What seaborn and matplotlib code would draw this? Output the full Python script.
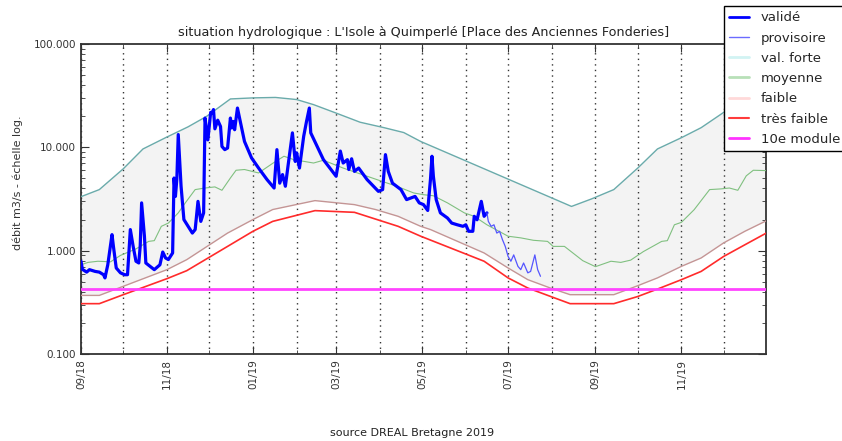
import matplotlib
matplotlib.use("Agg")

import numpy as np
import pandas as pd
import matplotlib.pyplot as plt
import matplotlib.dates as mdates
from matplotlib.ticker import FormatStrFormatter, LogLocator
from matplotlib.lines import Line2D
import seaborn as sns

START = pd.Timestamp("2018-09-01")

# daily flow, validated (days since 2018-09-01, m3/s)
valide_day = [0, 1, 4, 6, 10, 13, 16, 17, 19, 22, 23, 25, 28, 31, 33, 35, 37, 39, 41, 42,
              43, 45, 46, 49, 52, 56, 58, 60, 62, 65, 66, 67, 68, 69, 71, 73, 76, 79, 81, 83,
              85, 87, 88, 90, 92, 93, 94, 95, 97, 99, 100, 102, 104, 106, 107, 108, 109, 111, 113, 116,
              121, 126, 132, 137, 139, 141, 143, 145, 147, 150, 152, 153, 155, 158, 160, 162, 163, 172, 181, 184,
              186, 189, 190, 192, 194, 197, 203, 211, 214, 216, 218, 221, 227, 231, 237, 240, 243, 246, 248, 249,
              250, 252, 255, 260, 263, 267, 271, 273, 275, 278, 279, 281, 284, 286, 288]
valide_q = [0.79, 0.66, 0.62, 0.655, 0.63, 0.62, 0.585, 0.545, 0.73, 1.43, 1.1, 0.68, 0.61, 0.585, 0.585, 1.6, 1.1, 0.79, 0.76, 1.1,
            2.9, 1.38, 0.76, 0.705, 0.655, 0.73, 0.97, 0.85, 0.82, 0.95, 5.05, 3.35, 4.94, 13.3, 4.2, 2.0, 1.72, 1.48, 1.6, 3.0,
            1.92, 2.32, 19.2, 11.8, 21.8, 21.5, 23.2, 15.1, 18.3, 15.9, 10.2, 9.5, 9.85, 19.2, 15.4, 17.8, 14.8, 24.0, 17.8, 11.4,
            7.9, 6.3, 4.87, 4.04, 9.5, 4.5, 5.45, 4.2, 6.8, 13.8, 7.3, 8.85, 6.3, 12.8, 17.8, 24.0, 13.8, 7.6, 5.25, 9.2,
            7.05, 7.6, 6.1, 7.75, 5.85, 6.3, 4.87, 3.75, 3.9, 8.5, 5.85, 4.5, 3.9, 3.12, 3.35, 2.9, 2.79, 2.45, 5.0, 8.2,
            5.25, 3.12, 2.32, 2.07, 1.85, 1.78, 1.72, 1.78, 1.54, 1.54, 2.15, 1.99, 3.0, 2.15, 2.32]

# provisional flow
provisoire_day = [288, 289, 291, 293, 295, 297, 299, 301, 303, 305, 307, 310, 312, 314, 317, 319, 322, 324, 326]
provisoire_q = [2.32, 1.92, 1.72, 1.78, 1.48, 1.54, 1.28, 1.1, 0.88, 0.79, 0.91, 0.705, 0.655, 0.76, 0.61, 0.63, 0.91, 0.655, 0.565]

# statistics
forte_day = [0, 13, 30, 44, 60, 76, 89, 106, 122, 138, 153, 165, 182, 198, 215, 229, 241, 348,
             362, 378, 395, 409, 426, 440, 456, 471, 487]
forte_q = [3.33, 3.9, 6.2, 9.65, 12.4, 15.8, 19.9, 29.4, 30.1, 30.4, 29.0, 25.9, 21.2, 17.5, 15.5, 13.9, 11.4, 2.68,
           3.16, 3.9, 6.3, 9.65, 12.4, 15.5, 21.8, 29.4, 30.1]

moyenne_day = [0, 5, 12, 21, 28, 39, 48, 52, 57, 62, 69, 74, 81, 88, 95, 100, 106, 110, 116, 126,
               136, 144, 151, 165, 172, 186, 210, 224, 236, 243, 250, 260, 272, 279, 288, 303, 312, 321, 331, 335,
               343, 356, 365, 376, 383, 390, 399, 412, 416, 421, 426, 435, 446, 454, 460, 466, 472, 477, 487]
moyenne_q = [0.73, 0.77, 0.79, 0.78, 0.90, 1.04, 1.23, 1.25, 1.72, 1.85, 2.32, 2.9, 3.9, 4.04, 4.14, 3.84, 5.05, 6.0, 6.1, 5.65,
             7.0, 8.2, 7.6, 7.05, 7.5, 6.3, 4.87, 4.2, 3.62, 3.48, 3.4, 2.9, 2.32, 2.15, 1.78, 1.38, 1.33, 1.26, 1.23, 1.1,
             1.1, 0.8, 0.70, 0.79, 0.77, 0.81, 0.98, 1.23, 1.25, 1.78, 1.88, 2.49, 3.9, 3.96, 4.04, 3.84, 5.3, 6.0, 5.95]

faible_day = [0, 13, 30, 61, 75, 104, 122, 136, 166, 194, 209, 225, 241, 248, 286, 303, 317, 333, 347,
              378, 395, 409, 426, 440, 456, 471, 487]
faible_q = [0.369, 0.369, 0.452, 0.655, 0.818, 1.48, 2.0, 2.5, 3.05, 2.79, 2.5, 2.15, 1.72, 1.6, 0.95, 0.68, 0.524, 0.435, 0.375,
            0.375, 0.458, 0.545, 0.705, 0.85, 1.19, 1.54, 1.97]

tres_faible_day = [0, 13, 30, 61, 75, 104, 122, 136, 166, 194, 225, 241, 286, 303, 317, 347,
                   378, 395, 409, 426, 440, 456, 471, 487]
tres_faible_q = [0.307, 0.307, 0.375, 0.536, 0.64, 1.1, 1.54, 1.92, 2.44, 2.35, 1.72, 1.38, 0.79, 0.545, 0.435, 0.307,
                 0.307, 0.36, 0.425, 0.524, 0.63, 0.88, 1.14, 1.5]

module_10e = 0.43
x_end_day = 486

TITLE = "situation hydrologique : L'Isole à Quimperlé [Place des Anciennes Fonderies]"


def to_dates(days):
    return START + pd.to_timedelta(np.array(days), unit="D")


sns.set_style("ticks", {"xtick.direction": "in", "ytick.direction": "in",
                        "axes.edgecolor": "#333333"})
plt.rcParams["font.family"] = ["DejaVu Sans"]

fig = plt.figure(figsize=(8.42, 4.41), dpi=100)
ax = fig.add_axes([81 / 842, 1 - 354 / 441, (766 - 81) / 842, (354 - 44) / 441])

# shaded band between faible and val. forte
fx = np.concatenate([mdates.date2num(to_dates(forte_day)), mdates.date2num(to_dates(faible_day))[::-1]])
fy = np.concatenate([forte_q, faible_q[::-1]])

sns.lineplot(x=to_dates(forte_day), y=forte_q, ax=ax, color="#6aabab", lw=1, estimator=None, zorder=3)
ax.fill(fx, fy, color="#f3f3f3", zorder=0.5, lw=0)
sns.lineplot(x=to_dates(moyenne_day), y=moyenne_q, ax=ax, color="#80c080", lw=0.8, estimator=None, zorder=3)
sns.lineplot(x=to_dates(faible_day), y=faible_q, ax=ax, color="#c49595", lw=1, estimator=None, zorder=3)
sns.lineplot(x=to_dates(tres_faible_day), y=tres_faible_q, ax=ax, color="#ff2b2b", lw=1.2, estimator=None, zorder=3)
ax.axhline(module_10e, color="#ff44ff", lw=2, zorder=3)
sns.lineplot(x=to_dates(valide_day), y=valide_q, ax=ax, color="#0000ff", lw=2.3, estimator=None, zorder=4)
sns.lineplot(x=to_dates(provisoire_day), y=provisoire_q, ax=ax, color="#5555ff", lw=0.9, estimator=None, zorder=4)

ax.set_yscale("log")
ax.set_ylim(0.1, 100)
ax.set_xlim(START, START + pd.Timedelta(days=x_end_day))
ax.yaxis.set_major_formatter(FormatStrFormatter("%.3f"))
ax.yaxis.set_minor_locator(LogLocator(base=10, subs=np.arange(2, 10)))
ax.yaxis.set_minor_formatter(plt.NullFormatter())

ax.xaxis.set_major_locator(mdates.MonthLocator(bymonth=[1, 3, 5, 7, 9, 11]))
ax.xaxis.set_minor_locator(mdates.MonthLocator())
ax.xaxis.set_major_formatter(mdates.DateFormatter("%m/%y"))
ax.grid(True, which="both", axis="x", color="#333333", ls=(0, (1, 3)), lw=1)
ax.grid(False, axis="y")

ax.tick_params(axis="both", which="both", direction="in", top=True, right=True,
               labelsize=7.5, colors="#333333")
ax.tick_params(which="major", length=6)
ax.tick_params(which="minor", length=3)
plt.setp(ax.get_xticklabels(), rotation=90)
for s in ax.spines.values():
    s.set_linewidth(1.3)
    s.set_color("#333333")

ax.set_xlabel("")
ax.set_ylabel("débit m3/s - échelle log.", fontsize=8, color="#333333")
ax.yaxis.set_label_coords(-0.085, 0.552)
ax.set_title(TITLE, fontsize=9.2, color="#222222", pad=6)

handles = [
    Line2D([], [], color="#0000ff", lw=2),
    Line2D([], [], color="#6b6bff", lw=1),
    Line2D([], [], color="#d2f3f3", lw=2),
    Line2D([], [], color="#b8e0b8", lw=2),
    Line2D([], [], color="#ffd9d9", lw=2),
    Line2D([], [], color="#ff3b3b", lw=1.5),
    Line2D([], [], color="#ff33ff", lw=2),
]
labels = ["validé", "provisoire", "val. forte", "moyenne", "faible", "très faible", "10e module"]
leg = fig.legend(handles, labels, loc="upper left", bbox_to_anchor=(724 / 842, 1 - 6 / 441),
                 borderaxespad=0, fontsize=9.5, frameon=True, fancybox=False, framealpha=1,
                 handlelength=1.5, handletextpad=0.9, labelspacing=0.55, borderpad=0.4)
leg.get_frame().set_edgecolor("black")
leg.get_frame().set_linewidth(1)

fig.text(412 / 842, 1 - 433 / 441, "source DREAL Bretagne 2019", ha="center", va="center",
         fontsize=8, color="#222222")

fig.savefig("out.png", dpi=100)
plt.close(fig)
